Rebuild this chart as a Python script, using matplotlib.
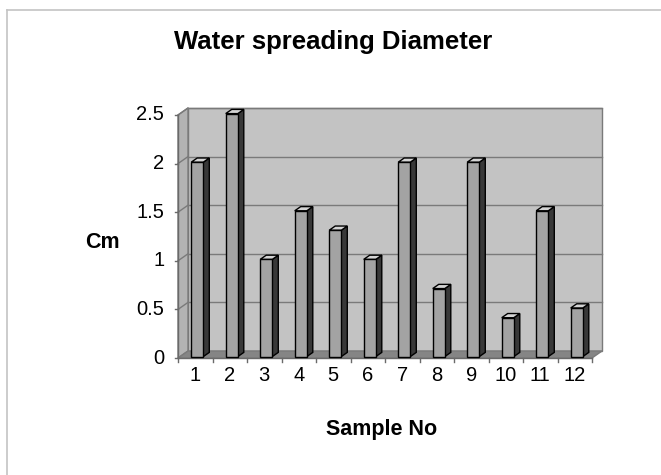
import matplotlib.pyplot as plt
from matplotlib.patches import Polygon
from matplotlib.lines import Line2D

plt.rcParams['font.family'] = ['Liberation Sans', 'DejaVu Sans']

samples = ['1', '2', '3', '4', '5', '6', '7', '8', '9', '10', '11', '12']
diameter_cm = [2.0, 2.5, 1.0, 1.5, 1.3, 1.0, 2.0, 0.7, 2.0, 0.4, 1.5, 0.5]
y_ticks = [0, 0.5, 1, 1.5, 2, 2.5]
y_tick_labels = ['0', '0.5', '1', '1.5', '2', '2.5']

fig = plt.figure(figsize=(6.61, 4.75), dpi=100)
fig.patch.set_facecolor('white')

# thin frame around the chart (only left and top visible in reference)
fig.add_artist(Line2D([7 / 661, 7 / 661], [0, 1 - 10 / 475], transform=fig.transFigure, color='#c4c4c4', lw=1.2))
fig.add_artist(Line2D([7 / 661, 1], [1 - 10 / 475, 1 - 10 / 475], transform=fig.transFigure, color='#c4c4c4', lw=1.2))

ax = fig.add_axes([178 / 661, 1 - 358 / 475, 414 / 661, 243 / 475])
ax.set_xlim(0.5, 12.5)
ax.set_ylim(0, 2.5)
ax.axis('off')

n = len(samples)
x0, x1 = 0.5, n + 0.5
ymax = y_ticks[-1]
# depth offset of the 3D box, in data units
dx, dy = 0.29, 0.072

# back wall
ax.add_patch(Polygon([(x0 + dx, dy), (x1 + dx, dy), (x1 + dx, ymax + dy), (x0 + dx, ymax + dy)],
                     closed=True, facecolor='#c3c3c3', edgecolor='#7a7a7a', lw=1, clip_on=False, zorder=1))
# left wall
ax.add_patch(Polygon([(x0, 0), (x0 + dx, dy), (x0 + dx, ymax + dy), (x0, ymax)],
                     closed=True, facecolor='#b3b3b3', edgecolor='#7a7a7a', lw=1, clip_on=False, zorder=1))
# floor
ax.add_patch(Polygon([(x0, 0), (x1, 0), (x1 + dx, dy), (x0 + dx, dy)],
                     closed=True, facecolor='#858585', edgecolor='#7a7a7a', lw=1, clip_on=False, zorder=2))

# gridlines on back wall and left wall
for t in y_ticks[1:]:
    ax.plot([x0 + dx, x1 + dx], [t + dy, t + dy], color='#7a7a7a', lw=1, zorder=2, clip_on=False)
    ax.plot([x0, x0 + dx], [t, t + dy], color='#7a7a7a', lw=1, zorder=2, clip_on=False)

# axis lines and tick marks
ax.plot([x0, x0], [0, ymax], color='#6a6a6a', lw=1, zorder=3, clip_on=False)
ax.plot([x0, x1], [0, 0], color='#6a6a6a', lw=1, zorder=3, clip_on=False)
for t, lab in zip(y_ticks, y_tick_labels):
    ax.plot([x0 - 0.1, x0], [t, t], color='#6a6a6a', lw=1, clip_on=False)
    ax.text(x0 - 0.4, t, lab, ha='right', va='center', fontsize=14.5)
for i in range(n + 1):
    ax.plot([x0 + i, x0 + i], [0, -0.04], color='#6a6a6a', lw=1, clip_on=False)
for i, s in enumerate(samples):
    ax.text(i + 1, -0.08, s, ha='center', va='top', fontsize=14.5)

# 3D bars
bw = 0.35
f0, f1 = 0.2, 0.8
for i, v in enumerate(diameter_cm):
    xc = i + 1 + f0 * dx
    left, right = xc - bw / 2, xc + bw / 2
    bot = f0 * dy
    top = v + f0 * dy
    ddx, ddy = (f1 - f0) * dx, (f1 - f0) * dy
    ax.add_patch(Polygon([(right, bot), (right + ddx, bot + ddy), (right + ddx, top + ddy), (right, top)],
                         closed=True, facecolor='#383838', edgecolor='black', lw=1, clip_on=False, zorder=4))
    ax.add_patch(Polygon([(left, top), (right, top), (right + ddx, top + ddy), (left + ddx, top + ddy)],
                         closed=True, facecolor='#d4d4d4', edgecolor='black', lw=1, clip_on=False, zorder=4))
    ax.add_patch(Polygon([(left, bot), (right, bot), (right, top), (left, top)],
                         closed=True, facecolor='#a3a3a3', edgecolor='black', lw=1, clip_on=False, zorder=5))

fig.text(333 / 661, 1 - 42 / 475, 'Water spreading Diameter', ha='center', va='center',
         fontsize=18.5, fontweight='bold')
fig.text(102 / 661, 1 - 243 / 475, 'Cm', ha='center', va='center', fontsize=15.5, fontweight='bold')
fig.text(382 / 661, 1 - 430 / 475, 'Sample No', ha='center', va='center', fontsize=15.5, fontweight='bold')

fig.savefig('out.png', dpi=100)
